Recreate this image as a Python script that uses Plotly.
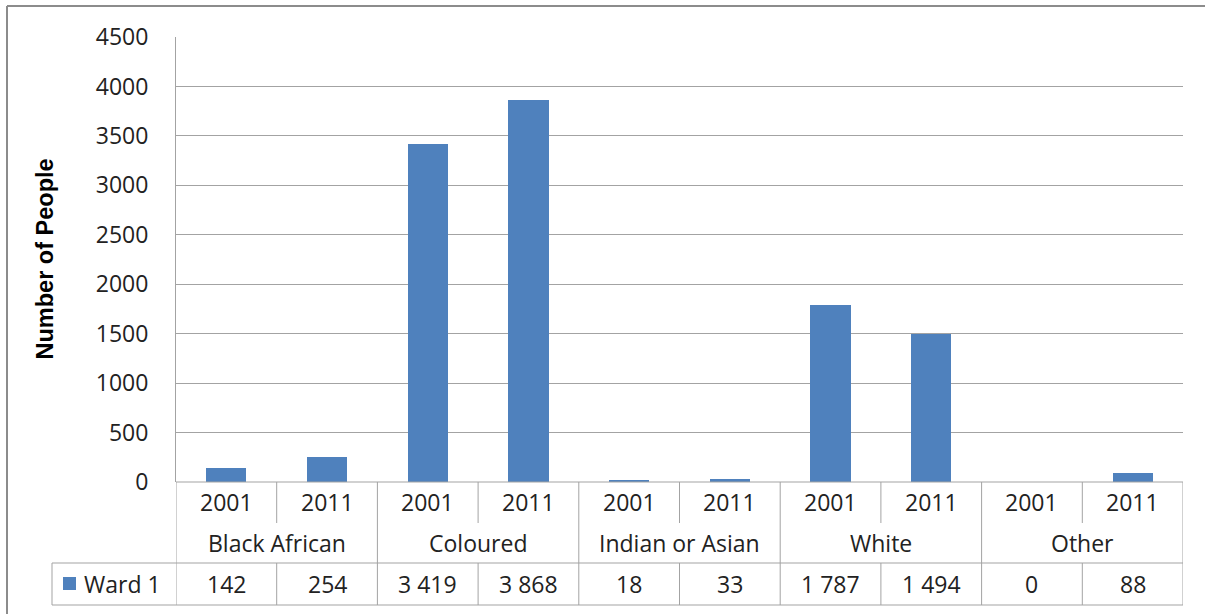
import plotly.graph_objects as go

# Population by race group, 2001 vs 2011
groups = ["Black African", "Coloured", "Indian or Asian", "White", "Other"]
years = ["2001", "2011"]
series_name = "Ward 1"
ward1 = [142, 254, 3419, 3868, 18, 33, 1787, 1494, 0, 88]
y_ticks = [0, 500, 1000, 1500, 2000, 2500, 3000, 3500, 4000, 4500]

BAR = "#4F81BD"
GRID = "#A3A3A3"
TXT = "#222222"
FONT = "Open Sans"

W, H = 1205, 614
L, R, T, B = 176, 22, 37, 132
pw, ph = W - L - R, H - T - B


def px_x(p):
    return (p - L) / pw


def px_y(p):
    return (H - B - p) / ph


n = len(ward1)
xs = [i + 0.5 for i in range(n)]

fig = go.Figure()
fig.add_trace(go.Bar(x=xs, y=ward1, width=0.4, marker=dict(color=BAR, line=dict(width=0)),
                     name=series_name, showlegend=False, hoverinfo="y"))

shapes = []
ann = []
line = dict(color=GRID, width=1)

# table row positions (pixels)
row_top, row_mid, row_data, row_bot = 482, 523, 563, 605

# horizontal rules of the data table
shapes.append(dict(type="line", xref="paper", yref="paper", x0=0, x1=1,
                   y0=px_y(row_top), y1=px_y(row_top), line=line))
shapes.append(dict(type="line", xref="paper", yref="paper", x0=px_x(52), x1=1,
                   y0=px_y(row_data), y1=px_y(row_data), line=line))
shapes.append(dict(type="line", xref="paper", yref="paper", x0=px_x(52), x1=1,
                   y0=px_y(row_bot), y1=px_y(row_bot), line=line))
shapes.append(dict(type="line", xref="paper", yref="paper", x0=px_x(52), x1=px_x(52),
                   y0=px_y(row_data), y1=px_y(row_bot), line=line))

# vertical rules: group boundaries span all rows; year splits skip the group-name row
for k in range(n + 1):
    if k % 2 == 0:
        shapes.append(dict(type="line", xref="x", yref="paper", x0=k, x1=k,
                           y0=px_y(row_top), y1=px_y(row_bot), line=line))
    else:
        shapes.append(dict(type="line", xref="x", yref="paper", x0=k, x1=k,
                           y0=px_y(row_top), y1=px_y(row_mid), line=line))
        shapes.append(dict(type="line", xref="x", yref="paper", x0=k, x1=k,
                           y0=px_y(row_data), y1=px_y(row_bot), line=line))

# chart frame (top and left edges)
frame = dict(color="#8C8C8C", width=2)
shapes.append(dict(type="line", xref="paper", yref="paper", x0=px_x(7), x1=px_x(W + 5),
                   y0=px_y(6), y1=px_y(6), line=frame))
shapes.append(dict(type="line", xref="paper", yref="paper", x0=px_x(7), x1=px_x(7),
                   y0=px_y(6), y1=px_y(H + 5), line=frame))

# legend key square
shapes.append(dict(type="rect", xref="paper", yref="paper", x0=px_x(63), x1=px_x(76),
                   y0=px_y(590), y1=px_y(577), fillcolor=BAR, line=dict(width=0)))

tf = dict(family=FONT, size=23, color=TXT)
for i, v in enumerate(ward1):
    ann.append(dict(x=xs[i], y=px_y(502), xref="x", yref="paper", text=years[i % 2],
                    showarrow=False, font=tf, xanchor="center", yanchor="middle"))
    ann.append(dict(x=xs[i], y=px_y(584), xref="x", yref="paper",
                    text=f"{v:,}".replace(",", " "),
                    showarrow=False, font=tf, xanchor="center", yanchor="middle"))
for g, name in enumerate(groups):
    ann.append(dict(x=2 * g + 1, y=px_y(543), xref="x", yref="paper", text=name,
                    showarrow=False, font=tf, xanchor="center", yanchor="middle"))
ann.append(dict(x=px_x(82), y=px_y(584), xref="paper", yref="paper", text=series_name,
                showarrow=False, font=tf, xanchor="left", yanchor="middle"))
ann.append(dict(x=px_x(44), y=0.5, xref="paper", yref="paper", text="<b>Number of People</b>",
                textangle=-90, showarrow=False,
                font=dict(family="Liberation Sans", size=23.5, color="#000000"),
                xanchor="center", yanchor="middle"))

fig.update_layout(
    width=W, height=H,
    margin=dict(l=L, r=R, t=T, b=B),
    paper_bgcolor="white", plot_bgcolor="white",
    shapes=shapes, annotations=ann,
    bargap=0,
    xaxis=dict(range=[0, n], showticklabels=False, showgrid=False, zeroline=False,
               showline=False, fixedrange=True),
    yaxis=dict(range=[0, 4500], tickvals=y_ticks, showgrid=True, gridcolor=GRID, gridwidth=1,
               zeroline=False, showline=True, linecolor=GRID, linewidth=1,
               tickfont=dict(family=FONT, size=23, color=TXT), ticks="",
               ticklabelstandoff=22, fixedrange=True),
)

fig.write_html("out.html")
